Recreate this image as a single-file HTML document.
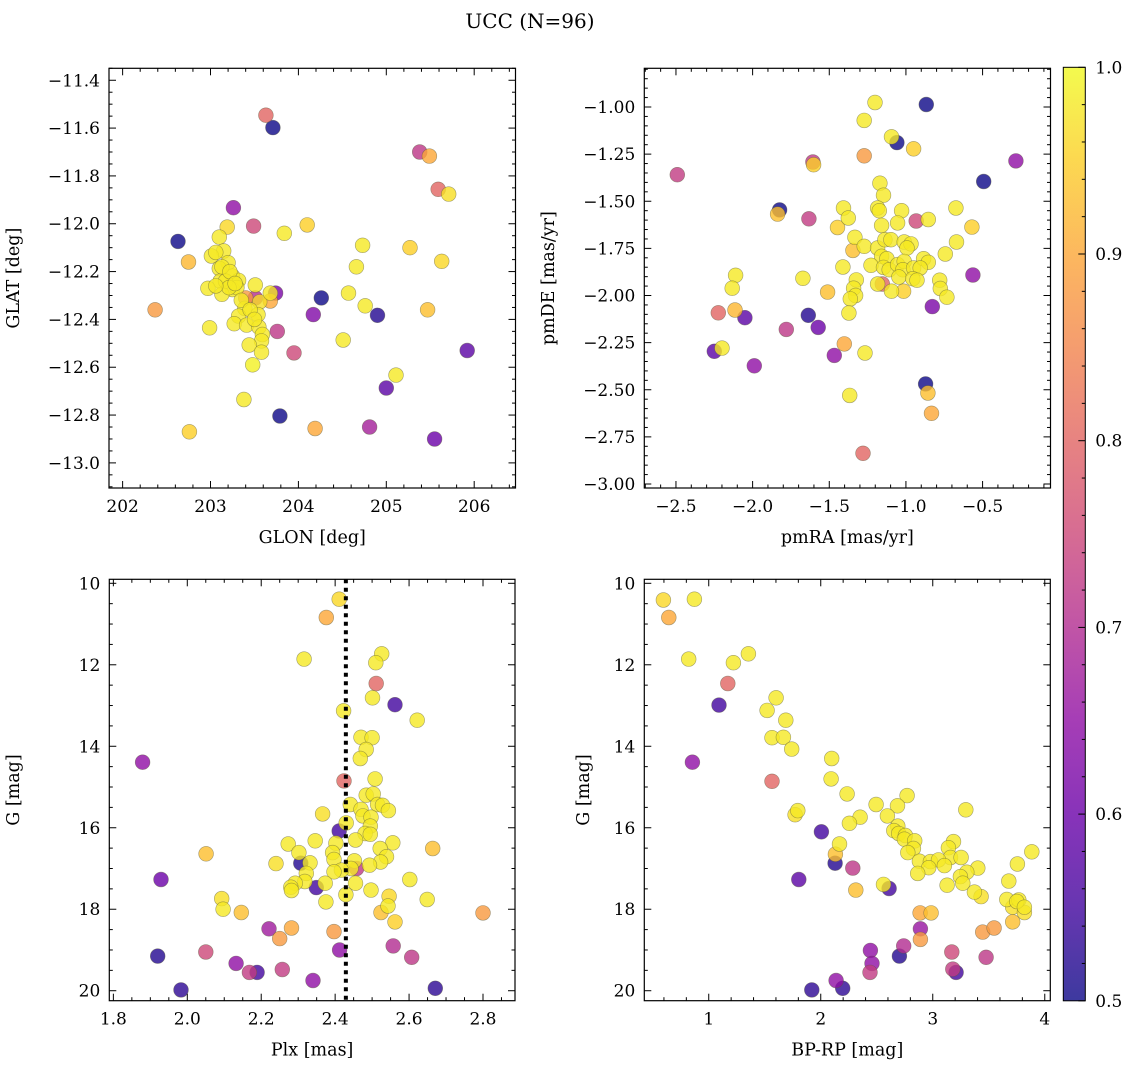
<!DOCTYPE html>
<html><head><meta charset="utf-8">
<style>
html,body{margin:0;padding:0;background:#fff;}
svg{display:block;font-family:"DejaVu Serif","Liberation Serif",serif;}
</style></head>
<body>
<svg id="fig" width="1136" height="1067" viewBox="0 0 1136 1067" xmlns="http://www.w3.org/2000/svg">
<text x="530" y="28" text-anchor="middle" font-size="20">UCC (N=96)</text>
</svg>
<script>
// ---- Panel 1 data: GLON / GLAT / membership probability ----
const p1Glon = [203.63,203.71,205.38,205.49,205.59,205.71,203.26,203.49,204.10,203.84,202.63,202.75,204.73,205.27,205.63,204.66,202.37,204.57,204.26,204.76,203.74,205.47,204.17,204.9,203.76,203.95,204.51,205.92,205.11,205.0,203.38,203.79,202.76,204.19,204.81,205.55,
203.19,203.1,203.15,203.01,203.2,203.1,203.25,203.32,203.11,202.97,203.25,203.13,203.3,203.51,203.4,203.51,203.56,203.68,203.68,203.39,203.54,203.32,203.27,203.41,203.55,202.99,203.59,203.58,203.44,203.58,203.48,203.17,203.21,
203.06,203.13,203.22,203.28,203.06,203.35,203.45,203.5];
const p1Glat = [-11.546,-11.598,-11.70,-11.717,-11.856,-11.876,-11.933,-12.01,-12.005,-12.04,-12.074,-12.16,-12.09,-12.10,-12.157,-12.18,-12.36,-12.29,-12.31,-12.343,-12.29,-12.36,-12.38,-12.383,-12.45,-12.54,-12.486,-12.53,-12.633,-12.687,-12.735,-12.804,-12.87,-12.856,-12.85,-12.90,
-12.014,-12.056,-12.114,-12.135,-12.163,-12.187,-12.219,-12.237,-12.24,-12.27,-12.275,-12.295,-12.267,-12.256,-12.31,-12.31,-12.327,-12.29,-12.323,-12.354,-12.38,-12.386,-12.418,-12.424,-12.432,-12.435,-12.463,-12.49,-12.507,-12.537,-12.59,-12.24,-12.267,
-12.12,-12.18,-12.2,-12.25,-12.26,-12.32,-12.36,-12.4];
const p1Prob = [0.8,0.5,0.72,0.9,0.8,0.97,0.65,0.75,0.95,0.98,0.5,0.92,0.98,0.95,0.96,0.98,0.88,0.98,0.5,0.98,0.62,0.93,0.63,0.52,0.72,0.75,0.98,0.58,0.98,0.58,0.98,0.5,0.95,0.9,0.68,0.6,
0.96,0.98,0.98,0.98,0.98,0.98,0.98,0.98,0.98,0.98,0.98,0.98,0.98,0.98,0.88,0.7,0.97,0.98,0.9,0.98,0.98,0.98,0.98,0.98,0.98,0.98,0.98,0.98,0.98,0.98,0.99,0.98,0.98,
0.98,0.98,0.98,0.98,0.98,0.98,0.98,0.98];

// ---- Panel 2 data: pmRA / pmDE / probability ----
const p2Pmra = [-1.202,-0.867,-1.272,-1.094,-1.059,-0.95,-1.272,-1.607,-1.602,-0.283,-2.491,-0.493,-1.17,-1.146,-1.824,-1.837,-1.633,-1.407,-1.376,-1.446,-1.185,-1.174,-1.028,-1.159,-1.054,-0.933,-0.854,-0.674,-0.57,-1.333,-1.272,-1.346,-1.185,-1.137,-1.098,-1.011,-0.967,-0.993,-0.67,-0.743,-1.159,-1.124,-1.228,-1.146,-1.109,-1.054,-1.011,-1.02,-0.95,-0.885,-0.854,-0.907,-1.411,-1.672,-1.324,-1.341,-1.046,-0.955,-0.928,-0.78,-0.776,-0.733,-1.185,-1.154,-1.094,-1.015,-1.511,-1.328,-1.363,-1.372,-2.111,-2.133,-0.563,-0.828,-2.224,-2.115,-2.05,-1.637,-1.572,-1.78,-2.25,-2.2,-1.989,-1.467,-1.402,-1.267,-1.367,-0.872,-0.857,-0.833,-1.28];
const p2Pmde = [-0.976,-0.987,-1.071,-1.158,-1.189,-1.222,-1.259,-1.292,-1.306,-1.286,-1.359,-1.395,-1.404,-1.468,-1.546,-1.568,-1.593,-1.536,-1.589,-1.639,-1.536,-1.550,-1.550,-1.628,-1.615,-1.605,-1.597,-1.536,-1.637,-1.691,-1.739,-1.761,-1.748,-1.704,-1.704,-1.716,-1.726,-1.748,-1.716,-1.780,-1.792,-1.805,-1.840,-1.851,-1.863,-1.836,-1.819,-1.863,-1.854,-1.805,-1.824,-1.854,-1.849,-1.909,-1.917,-1.961,-1.902,-1.911,-1.919,-1.919,-1.963,-2.009,-1.939,-1.939,-1.977,-1.977,-1.982,-2.000,-2.018,-2.093,-1.893,-1.961,-1.891,-2.059,-2.092,-2.077,-2.118,-2.105,-2.169,-2.180,-2.296,-2.279,-2.373,-2.318,-2.257,-2.305,-2.530,-2.469,-2.517,-2.625,-2.837];
const p2Prob = [0.98,0.5,0.98,0.98,0.5,0.95,0.88,0.72,0.95,0.65,0.73,0.5,0.98,0.98,0.5,0.93,0.73,0.98,0.98,0.95,0.98,0.98,0.98,0.98,0.98,0.75,0.98,0.98,0.95,0.98,0.98,0.93,0.98,0.98,0.98,0.98,0.98,0.98,0.98,0.98,0.98,0.98,0.98,0.98,0.98,0.98,0.98,0.98,0.98,0.98,0.98,0.98,0.98,0.98,0.98,0.98,0.98,0.98,0.98,0.98,0.98,0.98,0.98,0.8,0.98,0.95,0.93,0.98,0.98,0.98,0.98,0.98,0.65,0.62,0.8,0.92,0.58,0.52,0.6,0.72,0.58,0.98,0.65,0.65,0.9,0.98,0.98,0.5,0.93,0.9,0.8];

// ---- Panel 3 data: Plx / G / probability ----
const p3Plx = [2.411,2.376,2.316,2.526,2.51,2.511,2.501,2.562,2.423,2.622,1.879,2.47,2.5,2.484,2.468,2.508,2.424,2.484,2.503,2.441,2.515,2.528,2.544,2.47,2.475,2.497,2.366,2.43,2.495,2.481,2.495,2.455,2.411,2.346,2.402,2.556,2.664,2.522,2.273,2.302,2.051,2.393,2.397,2.539,2.523,2.452,2.24,2.332,2.307,2.458,2.443,2.493,2.417,2.397,2.322,1.929,2.602,2.318,2.292,2.28,2.373,2.455,2.349,2.282,2.497,2.429,2.546,2.093,2.375,2.649,2.543,2.097,2.146,2.524,2.8,2.562,2.221,2.282,2.25,2.397,2.412,2.557,1.92,2.05,2.607,2.132,2.168,2.189,2.257,2.34,1.983,2.671];
const p3G = [10.39,10.84,11.86,11.73,11.95,12.46,12.81,12.98,13.13,13.36,14.39,13.78,13.79,14.08,14.3,14.8,14.85,15.2,15.17,15.43,15.43,15.45,15.58,15.55,15.71,15.74,15.66,15.88,15.96,16.14,16.16,16.3,16.08,16.32,16.38,16.37,16.51,16.51,16.4,16.61,16.64,16.61,16.78,16.71,16.84,16.81,16.88,16.86,16.87,17.0,17.0,16.92,17.04,17.08,17.12,17.27,17.27,17.32,17.36,17.46,17.36,17.36,17.47,17.54,17.53,17.64,17.68,17.74,17.82,17.76,17.92,18.0,18.08,18.08,18.09,18.31,18.48,18.46,18.72,18.55,19.0,18.9,19.15,19.05,19.18,19.33,19.55,19.55,19.48,19.75,19.98,19.94];
const p3Prob = [0.96,0.9,0.98,0.98,0.98,0.8,0.98,0.55,0.98,0.98,0.65,0.98,0.98,0.98,0.98,0.98,0.8,0.98,0.98,0.98,0.98,0.98,0.98,0.98,0.98,0.98,0.97,0.98,0.98,0.98,0.98,0.98,0.55,0.98,0.98,0.98,0.93,0.98,0.98,0.98,0.93,0.98,0.98,0.98,0.98,0.98,0.97,0.98,0.52,0.72,0.98,0.98,0.98,0.98,0.98,0.6,0.98,0.98,0.98,0.98,0.98,0.98,0.55,0.98,0.98,0.98,0.96,0.97,0.98,0.98,0.98,0.98,0.93,0.93,0.88,0.95,0.67,0.9,0.88,0.88,0.65,0.7,0.52,0.75,0.72,0.65,0.73,0.55,0.73,0.65,0.53,0.53];
const p3PlxLine = [2.429];

// ---- Panel 4 data: BP-RP / G / probability ----
const p4Color = [0.595,0.872,0.643,0.821,1.22,1.354,1.17,1.092,1.601,1.521,1.688,1.565,1.667,1.741,0.854,2.098,2.092,1.565,2.235,2.771,2.494,2.685,3.295,1.795,1.771,2.595,2.351,2.256,2.688,2.006,2.652,2.696,2.756,2.747,2.839,3.185,2.167,2.827,3.14,3.884,2.777,2.131,3.158,3.253,2.881,2.979,3.051,3.104,2.964,3.756,2.128,2.286,3.402,3.304,2.866,3.247,3.268,3.679,3.128,1.804,2.56,2.61,2.313,3.372,3.432,3.661,3.768,3.75,3.714,3.818,3.818,2.887,2.985,3.714,3.446,3.548,2.89,2.89,2.741,2.443,3.17,2.702,3.476,2.458,2.44,3.179,3.208,2.137,1.92,2.196];
const p4G = [10.41,10.39,10.84,11.86,11.95,11.73,12.46,12.99,12.81,13.12,13.36,13.79,13.78,14.07,14.39,14.3,14.8,14.86,15.17,15.21,15.43,15.46,15.56,15.58,15.68,15.71,15.74,15.89,15.96,16.1,16.07,16.14,16.19,16.28,16.32,16.34,16.4,16.51,16.49,16.59,16.61,16.65,16.73,16.73,16.82,16.83,16.79,16.93,16.98,16.89,16.87,16.99,16.99,17.09,17.12,17.2,17.36,17.31,17.41,17.27,17.39,17.49,17.53,17.58,17.69,17.76,17.77,17.81,17.95,17.95,18.08,18.09,18.09,18.31,18.56,18.46,18.48,18.74,18.9,19.01,19.05,19.15,19.18,19.33,19.55,19.47,19.55,19.75,19.98,19.94];
const p4Prob = [0.96,0.98,0.9,0.98,0.98,0.98,0.8,0.55,0.98,0.98,0.98,0.98,0.98,0.98,0.65,0.98,0.98,0.8,0.98,0.98,0.98,0.98,0.98,0.98,0.97,0.98,0.98,0.98,0.98,0.55,0.98,0.98,0.98,0.98,0.98,0.98,0.98,0.98,0.98,0.98,0.98,0.93,0.98,0.98,0.98,0.98,0.98,0.98,0.98,0.98,0.52,0.72,0.98,0.98,0.98,0.98,0.98,0.98,0.98,0.58,0.98,0.55,0.93,0.98,0.97,0.98,0.98,0.98,0.97,0.98,0.97,0.9,0.93,0.93,0.88,0.88,0.66,0.88,0.7,0.65,0.75,0.52,0.72,0.65,0.73,0.73,0.55,0.65,0.53,0.53];

// ---- Colorbar ticks ----
const cbTicks = [0.5,0.6,0.7,0.8,0.9,1.0];
const cbTickLabels = ["0.5","0.6","0.7","0.8","0.9","1.0"];

const NS = "http://www.w3.org/2000/svg";
const svg = document.getElementById('fig');
function mk(tag, attrs, parent){
  const e = document.createElementNS(NS, tag);
  for (const k in attrs) e.setAttribute(k, attrs[k]);
  (parent||svg).appendChild(e);
  return e;
}
const plasmaStops = ["#0d0887","#41049d","#6a00a8","#8f0da4","#b12a90","#cc4778","#e16462","#f2844b","#fca636","#fcce25","#f0f921"];
function hex2rgb(h){return [parseInt(h.slice(1,3),16),parseInt(h.slice(3,5),16),parseInt(h.slice(5,7),16)];}
function plasma(t){
  t=Math.max(0,Math.min(1,t));
  const f=t*10, i=Math.min(9,Math.floor(f)), r=f-i;
  const a=hex2rgb(plasmaStops[i]), b=hex2rgb(plasmaStops[i+1]);
  return 'rgb('+a.map((v,k)=>Math.round(v+(b[k]-v)*r)).join(',')+')';
}
function probColor(p){return plasma((p-0.5)/0.5);}

function fmt(v,d){ const s=v.toFixed(d); return v<0 ? '\u2212'+s.slice(1) : s; }

function panel(cfg){
  const {name,L,R,T,B,xmin,xmax,ymin,ymax,yInvert,xs,ys,ps,xMaj,xMin,yMaj,yMin,xDec,yDec,xlabel,ylabel,ylabelX} = cfg;
  const sx = v => L + (v-xmin)/(xmax-xmin)*(R-L);
  const sy = yInvert ? (v => T + (v-ymin)/(ymax-ymin)*(B-T)) : (v => B - (v-ymin)/(ymax-ymin)*(B-T));
  const g = mk('g',{});
  
  
  const cp = mk('clipPath',{id:name+'-clip'},g);
  mk('rect',{x:L,y:T,width:R-L,height:B-T},cp);
  const pts = mk('g',{'clip-path':'url(#'+name+'-clip)'},g);
  
  
  const idx = xs.map((_,i)=>i).sort((a,b)=>ps[a]-ps[b]);
  idx.forEach(i=>{
    const c = mk('circle',{cx:sx(xs[i]).toFixed(1),cy:sy(ys[i]).toFixed(1),r:7.4,fill:probColor(ps[i]),'fill-opacity':0.8,stroke:'rgba(90,90,60,0.55)','stroke-width':0.6},pts);
    
    
  });
  if (cfg.vline){
    cfg.vline.forEach(v=>{
      const ln = mk('line',{x1:sx(v),x2:sx(v),y1:T,y2:B,stroke:'#000','stroke-width':4,'stroke-dasharray':'4,4.5'},pts);
      
      
    });
  }
  const ax = mk('g',{stroke:'#000','stroke-width':1},g);
  
  
  const eps=1e-9;
  const lo=Math.min(xmin,xmax), hi=Math.max(xmin,xmax);
  for(let v=Math.ceil(lo/xMin-eps)*xMin; v<=hi+eps; v+=xMin){
    const x=sx(v); const major=Math.abs(v/xMaj-Math.round(v/xMaj))<1e-6; const len=major?7:3.5;
    mk('line',{x1:x,x2:x,y1:B,y2:B-len},ax); mk('line',{x1:x,x2:x,y1:T,y2:T+len},ax);
    if(major){ const t=mk('text',{x:x,y:B+24,'text-anchor':'middle','font-size':17,stroke:'none',fill:'#000'},g); t.textContent=fmt(v,xDec);
        }
  }
  const ylo=Math.min(ymin,ymax), yhi=Math.max(ymin,ymax);
  for(let v=Math.ceil(ylo/yMin-eps)*yMin; v<=yhi+eps; v+=yMin){
    const y=sy(v); const major=Math.abs(v/yMaj-Math.round(v/yMaj))<1e-6; const len=major?7:3.5;
    mk('line',{x1:L,x2:L+len,y1:y,y2:y},ax); mk('line',{x1:R,x2:R-len,y1:y,y2:y},ax);
    if(major){ const t=mk('text',{x:L-9,y:y+6,'text-anchor':'end','font-size':17,stroke:'none',fill:'#000'},g); t.textContent=fmt(v,yDec);
        }
  }
  mk('rect',{x:L,y:T,width:R-L,height:B-T,fill:'none',stroke:'#000','stroke-width':1.2},g);
  const xl=mk('text',{x:(L+R)/2,y:B+55,'text-anchor':'middle','font-size':17.5},g); xl.textContent=xlabel;
   
  const yx=ylabelX, yy=(T+B)/2;
  const yl=mk('text',{x:yx,y:yy,'text-anchor':'middle','font-size':17.5,transform:'rotate(-90 '+yx+' '+yy+')'},g); yl.textContent=ylabel;
   
}

panel({name:'glon-glat-panel',L:109,R:515.5,T:68.3,B:488,xmin:201.845,xmax:206.47,ymin:-11.35,ymax:-13.105,yInvert:true,
  xs:p1Glon,ys:p1Glat,ps:p1Prob,xMaj:1,xMin:0.2,yMaj:0.2,yMin:0.05,xDec:0,yDec:1,xlabel:'GLON [deg]',ylabel:'GLAT [deg]',ylabelX:19});
panel({name:'proper-motion-panel',L:644.3,R:1050.5,T:68.3,B:488,xmin:-2.7065,xmax:-0.057,ymin:-0.7947,ymax:-3.0212,yInvert:true,
  xs:p2Pmra,ys:p2Pmde,ps:p2Prob,xMaj:0.5,xMin:0.1,yMaj:0.25,yMin:0.05,xDec:1,yDec:2,xlabel:'pmRA [mas/yr]',ylabel:'pmDE [mas/yr]',ylabelX:554});
panel({name:'plx-g-panel',L:109.3,R:515,T:579.3,B:1000.7,xmin:1.789,xmax:2.8866,ymin:9.9018,ymax:20.245,yInvert:true,
  xs:p3Plx,ys:p3G,ps:p3Prob,xMaj:0.2,xMin:0.05,yMaj:2,yMin:0.5,xDec:1,yDec:0,xlabel:'Plx [mas]',ylabel:'G [mag]',ylabelX:19,vline:p3PlxLine});
panel({name:'cmd-panel',L:644.3,R:1050.3,T:579.3,B:1000.7,xmin:0.4247,xmax:4.0494,ymin:9.9018,ymax:20.245,yInvert:true,
  xs:p4Color,ys:p4G,ps:p4Prob,xMaj:1,xMin:0.2,yMaj:2,yMin:0.5,xDec:0,yDec:0,xlabel:'BP-RP [mag]',ylabel:'G [mag]',ylabelX:589});

// colorbar
(function(){
  const L=1063.3,R=1085.3,T=67.3,B=1000.8;
  const cb = mk('g',{});
  
  
  const defs = mk('defs',{},cb);
  const lg = mk('linearGradient',{id:'cbgrad',x1:0,y1:1,x2:0,y2:0},defs);
  for(let i=0;i<=20;i++){ mk('stop',{offset:(i/20),'stop-color':plasma(i/20),'stop-opacity':0.8},lg); }
  mk('rect',{x:L,y:T,width:R-L,height:B-T,fill:'url(#cbgrad)',stroke:'#000','stroke-width':1},cb);
  const sy=v=>B-(v-0.5)/0.5*(B-T);
  for(let k=0;k<=25;k++){ const v=0.5+k*0.02; const y=sy(v); const major=(k%5===0);
    mk('line',{x1:R,x2:R-(major?7:3.5),y1:y,y2:y,stroke:'#000','stroke-width':1},cb); }
  cbTicks.forEach((v,i)=>{ const t=mk('text',{x:R+10,y:sy(v)+6,'font-size':17},cb); t.textContent=cbTickLabels[i];
      });
})();
</script>
</body></html>
